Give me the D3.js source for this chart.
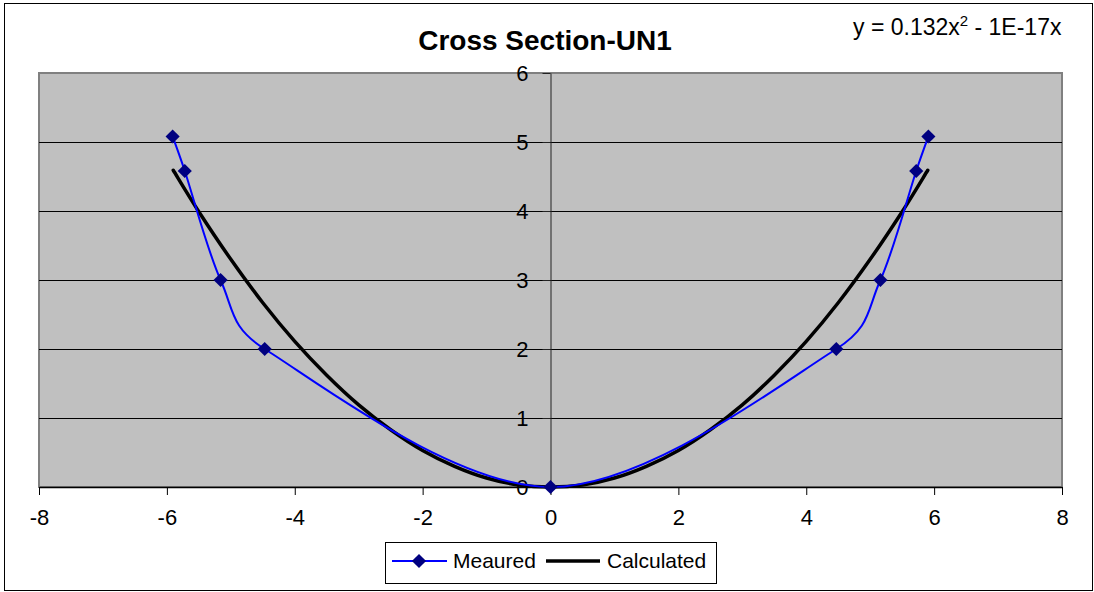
<!DOCTYPE html>
<html>
<head>
<meta charset="utf-8">
<script src="https://cdn.jsdelivr.net/npm/d3@7"></script>
<style>
  body { margin: 0; background: #fff; }
  svg { display: block; font-family: Arial, "Liberation Sans", sans-serif; }
</style>
</head>
<body>
<svg id="chart" width="1094" height="592"></svg>
<script>
// Data.
var measuredX = [-5.91, -5.72, -5.16, -4.47, 0, 4.47, 5.16, 5.72, 5.91];
var measuredY = [5.08, 4.58, 3.0, 2.0, 0, 2.0, 3.0, 4.58, 5.08];
var calcX = [-5.9, -5.5, -5, -4.5, -4, -3.5, -3, -2.5, -2, -1.5, -1, -0.5, 0, 0.5, 1, 1.5, 2, 2.5, 3, 3.5, 4, 4.5, 5, 5.5, 5.9];
var calcY = [4.59, 3.99, 3.30, 2.67, 2.11, 1.62, 1.19, 0.83, 0.53, 0.30, 0.13, 0.03, 0, 0.03, 0.13, 0.30, 0.53, 0.83, 1.19, 1.62, 2.11, 2.67, 3.30, 3.99, 4.59];
var xTicks = [-8, -6, -4, -2, 0, 2, 4, 6, 8];
var yTicks = [0, 1, 2, 3, 4, 5, 6];
var title = "Cross Section-UN1";
var seriesNames = ["Meaured", "Calculated"];

var svg = d3.select("#chart");
var plot = {left: 39, right: 1062, top: 73, bottom: 487};

var x = d3.scaleLinear().domain([-8, 8]).range([plot.left, plot.right]);
var y = d3.scaleLinear().domain([0, 6]).range([plot.bottom, plot.top]);

// Spreadsheet-style smoothing: cardinal bezier, handles capped at half the segment.
function smoothCurve(context) {
  var pts;
  return {
    areaStart: function(){}, areaEnd: function(){},
    lineStart: function(){ pts = []; },
    point: function(px, py){ pts.push([+px, +py]); },
    lineEnd: function(){
      var n = pts.length;
      if (!n) return;
      context.moveTo(pts[0][0], pts[0][1]);
      for (var i = 0; i < n - 1; i++) {
        var p0 = pts[Math.max(i - 1, 0)], p1 = pts[i], p2 = pts[i + 1], p3 = pts[Math.min(i + 2, n - 1)];
        var d12 = Math.hypot(p2[0] - p1[0], p2[1] - p1[1]);
        var t1 = [p2[0] - p0[0], p2[1] - p0[1]], t2 = [p3[0] - p1[0], p3[1] - p1[1]];
        var m1 = Math.hypot(t1[0], t1[1]), m2 = Math.hypot(t2[0], t2[1]);
        var k1 = (m1 / 6 > d12 / 2) ? d12 / 2 / m1 : 1 / 6;
        var k2 = (m2 / 6 > d12 / 2) ? d12 / 2 / m2 : 1 / 6;
        context.bezierCurveTo(p1[0] + k1 * t1[0], p1[1] + k1 * t1[1],
                              p2[0] - k2 * t2[0], p2[1] - k2 * t2[1],
                              p2[0], p2[1]);
      }
    }
  };
}

// outer frame
svg.append("rect")
  .attr("x", 4.5).attr("y", 3.5).attr("width", 1088).attr("height", 587)
  .attr("fill", "#fff").attr("stroke", "#000").attr("stroke-width", 1);

// plot area
svg.append("rect")
  .attr("x", plot.left).attr("y", plot.top)
  .attr("width", plot.right - plot.left).attr("height", plot.bottom - plot.top)
  .attr("fill", "#c0c0c0").attr("stroke", "#808080").attr("stroke-width", 2);

// gridlines
svg.append("g").selectAll("line")
  .data(yTicks.filter(function(d){ return d > 0 && d < 6; }))
  .join("line")
  .attr("x1", plot.left).attr("x2", plot.right)
  .attr("y1", function(d){ return Math.round(y(d)) + 0.5; })
  .attr("y2", function(d){ return Math.round(y(d)) + 0.5; })
  .attr("stroke", "#000").attr("stroke-width", 1);

// plain hyphen labels like the original
var fmt = function(d){ return String(d); };

// x axis along the bottom
var xAxis = svg.append("g")
  .attr("transform", "translate(0," + plot.bottom + ")")
  .call(d3.axisBottom(x).tickValues(xTicks).tickFormat(fmt).tickSize(8).tickPadding(14).tickSizeOuter(0));
xAxis.select(".domain").attr("stroke", "#000").attr("stroke-width", 1.5);
xAxis.selectAll(".tick line").attr("stroke", "#000");
xAxis.selectAll("text").attr("font-size", 22).attr("fill", "#000")
  .attr("font-family", "Arial, 'Liberation Sans', sans-serif");

// y axis through x = 0
var yAxis = svg.append("g")
  .attr("transform", "translate(" + x(0) + ",0)")
  .call(d3.axisLeft(y).tickValues(yTicks).tickFormat(fmt).tickSize(8).tickPadding(14).tickSizeOuter(0));
yAxis.select(".domain").attr("stroke", "#222").attr("stroke-width", 1);
yAxis.selectAll(".tick line").attr("stroke", "#222");
yAxis.selectAll("text").attr("font-size", 22).attr("fill", "#000")
  .attr("font-family", "Arial, 'Liberation Sans', sans-serif");

// calculated curve
var calcPts = calcX.map(function(v, i){ return [v, calcY[i]]; });
svg.append("path")
  .datum(calcPts)
  .attr("fill", "none").attr("stroke", "#000").attr("stroke-width", 3.5)
  .attr("stroke-linecap", "round")
  .attr("d", d3.line().x(function(d){ return x(d[0]); }).y(function(d){ return y(d[1]); })
    .curve(smoothCurve));

// measured curve
var measPts = measuredX.map(function(v, i){ return [v, measuredY[i]]; });
svg.append("path")
  .datum(measPts)
  .attr("fill", "none").attr("stroke", "#0000ff").attr("stroke-width", 2)
  .attr("d", d3.line().x(function(d){ return x(d[0]); }).y(function(d){ return y(d[1]); })
    .curve(smoothCurve));

var diamond = d3.symbol().type(d3.symbolSquare).size(100);
svg.append("g").selectAll("path")
  .data(measPts)
  .join("path")
  .attr("d", diamond)
  .attr("transform", function(d){ return "translate(" + x(d[0]) + "," + y(d[1]) + ") rotate(45)"; })
  .attr("fill", "#000080");

// title and trendline equation
svg.append("text")
  .attr("x", 545).attr("y", 50)
  .attr("text-anchor", "middle")
  .attr("font-size", 28).attr("font-weight", "bold")
  .text(title);

var eq = svg.append("text")
  .attr("x", 853).attr("y", 35)
  .attr("font-size", 23);
eq.append("tspan").text("y = 0.132x");
eq.append("tspan").attr("dy", -9).attr("font-size", 15).text("2");
eq.append("tspan").attr("dy", 9).text(" - 1E-17x");

// legend
var legend = svg.append("g");
legend.append("rect")
  .attr("x", 385.5).attr("y", 542.5).attr("width", 331).attr("height", 41)
  .attr("fill", "#fff").attr("stroke", "#000").attr("stroke-width", 1);
legend.append("line")
  .attr("x1", 392).attr("x2", 447).attr("y1", 561).attr("y2", 561)
  .attr("stroke", "#0000ff").attr("stroke-width", 2);
legend.append("path")
  .attr("d", diamond)
  .attr("transform", "translate(419,561) rotate(45)")
  .attr("fill", "#000080");
legend.append("text")
  .attr("x", 453).attr("y", 568).attr("font-size", 21)
  .text(seriesNames[0]);
legend.append("line")
  .attr("x1", 546).attr("x2", 600).attr("y1", 561).attr("y2", 561)
  .attr("stroke", "#000").attr("stroke-width", 3.5);
legend.append("text")
  .attr("x", 607).attr("y", 568).attr("font-size", 21)
  .text(seriesNames[1]);
</script>
</body>
</html>
